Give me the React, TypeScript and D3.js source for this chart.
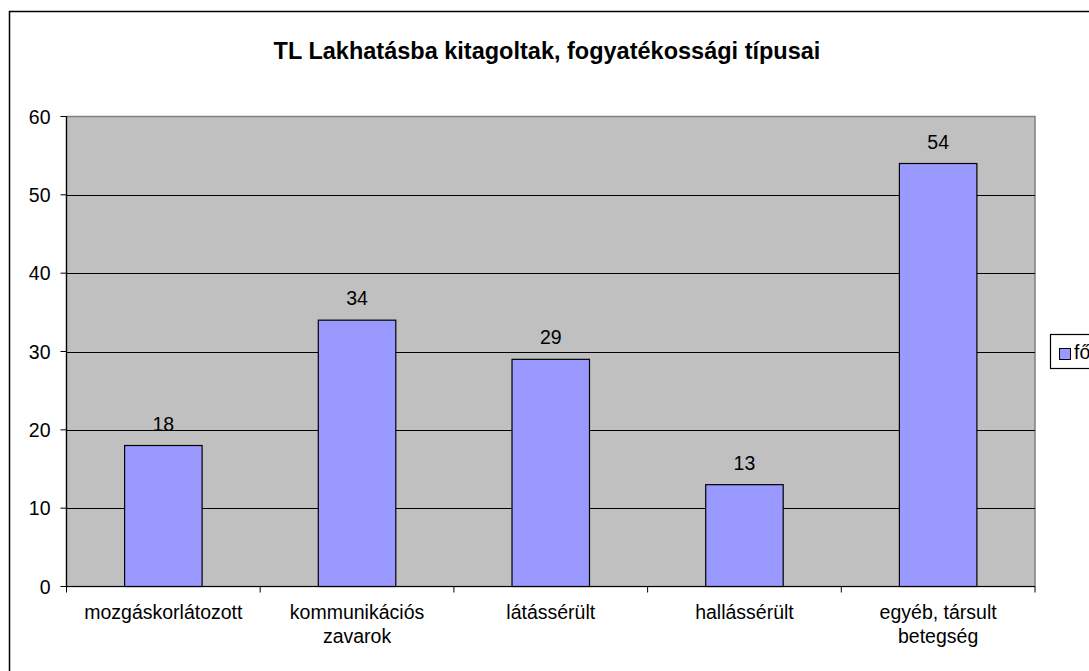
import React from "react";
import * as d3 from "d3";

const categories: string[][] = [
  ["mozgáskorlátozott"],
  ["kommunikációs", "zavarok"],
  ["látássérült"],
  ["hallássérült"],
  ["egyéb, társult", "betegség"],
];
const values: number[] = [18, 34, 29, 13, 54];
const yTicks: number[] = [0, 10, 20, 30, 40, 50, 60];
const seriesName = "fő";
const title = "TL Lakhatásba kitagoltak, fogyatékossági típusai";

const W = 1089;
const H = 671;
const plot = { left: 66.5, top: 116.5, right: 1035, bottom: 586.5 };
const font = "'Liberation Sans', Arial, sans-serif";
const fs = 19.5;

export default function App() {
  const keys = categories.map((c) => c.join(" "));
  const x = d3
    .scaleBand<string>()
    .domain(keys)
    .range([plot.left, plot.right])
    .paddingInner(0.6)
    .paddingOuter(0.3);
  const y = d3.scaleLinear().domain([0, 60]).range([plot.bottom, plot.top]);
  const step = (plot.right - plot.left) / categories.length;
  const tickXs = d3.range(categories.length + 1).map((i) => plot.left + i * step);

  return (
    <svg
      width={W}
      height={H}
      style={{ position: "absolute", left: 0, top: 0, display: "block", background: "#fff" }}
    >
      <rect x={9.5} y={11.5} width={W + 20} height={H + 20} fill="#fff" stroke="#000" strokeWidth={1.5} />
      <text x={547} y={59} textAnchor="middle" fontFamily={font} fontWeight="bold" fontSize={23.5} fill="#000">
        {title}
      </text>
      <rect
        x={plot.left}
        y={plot.top}
        width={plot.right - plot.left}
        height={plot.bottom - plot.top}
        fill="#C0C0C0"
        stroke="#808080"
        strokeWidth={1.5}
      />
      {yTicks.slice(1, -1).map((t) => (
        <line key={t} x1={plot.left} x2={plot.right} y1={Math.round(y(t)) + 0.5} y2={Math.round(y(t)) + 0.5} stroke="#000" strokeWidth={1} />
      ))}
      {values.map((v, i) => (
        <rect
          key={i}
          x={x(keys[i])!}
          y={y(v)}
          width={x.bandwidth()}
          height={plot.bottom - y(v)}
          fill="#9999FF"
          stroke="#000"
          strokeWidth={1.2}
        />
      ))}
      {values.map((v, i) => (
        <text
          key={i}
          x={x(keys[i])! + x.bandwidth() / 2}
          y={y(v) - 15}
          textAnchor="middle"
          fontFamily={font}
          fontSize={fs}
          fill="#000"
        >
          {v}
        </text>
      ))}
      {/* y axis */}
      <line x1={plot.left} x2={plot.left} y1={plot.top} y2={plot.bottom} stroke="#000" strokeWidth={1.2} />
      {yTicks.map((t) => (
        <g key={t}>
          <line x1={plot.left - 6} x2={plot.left} y1={y(t)} y2={y(t)} stroke="#000" strokeWidth={1} />
          <text x={plot.left - 16} y={y(t) + 7} textAnchor="end" fontFamily={font} fontSize={fs} fill="#000">
            {t}
          </text>
        </g>
      ))}
      {/* x axis */}
      <line x1={plot.left} x2={plot.right} y1={plot.bottom} y2={plot.bottom} stroke="#000" strokeWidth={1.2} />
      {tickXs.map((tx, i) => (
        <line key={i} x1={tx} x2={tx} y1={plot.bottom} y2={plot.bottom + 6} stroke="#000" strokeWidth={1} />
      ))}
      {categories.map((lines, i) => (
        <text
          key={i}
          x={x(keys[i])! + x.bandwidth() / 2}
          y={619}
          textAnchor="middle"
          fontFamily={font}
          fontSize={fs}
          fill="#000"
        >
          {lines.map((l, j) => (
            <tspan key={j} x={x(keys[i])! + x.bandwidth() / 2} dy={j === 0 ? 0 : 24}>
              {l}
            </tspan>
          ))}
        </text>
      ))}
      {/* legend */}
      <rect x={1050.5} y={334.5} width={60} height={34} fill="#fff" stroke="#000" strokeWidth={1.2} />
      <rect x={1059.5} y={348.5} width={11} height={11} fill="#9999FF" stroke="#000" strokeWidth={1} />
      <text x={1074} y={359} fontFamily={font} fontSize={fs} fill="#000">
        {seriesName}
      </text>
    </svg>
  );
}
